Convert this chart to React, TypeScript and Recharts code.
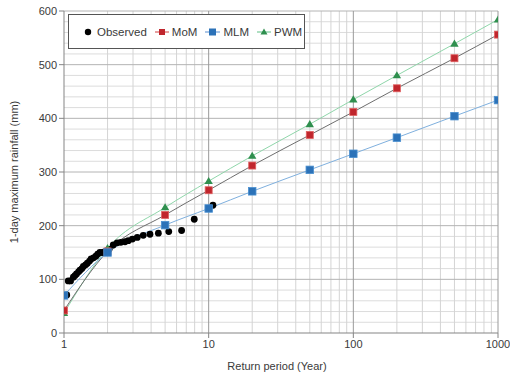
import React from 'react';
import {
  ComposedChart,
  Line,
  Scatter,
  XAxis,
  YAxis,
  ReferenceLine,
  Legend,
} from 'recharts';

// ---- Data ----
const returnPeriods = [1, 2, 5, 10, 20, 50, 100, 200, 500, 1000];
const momValues = [42, 152, 220, 266, 312, 369, 412, 456, 512, 556];
const mlmValues = [70, 150, 201, 232, 264, 304, 334, 364, 404, 434];
const pwmValues = [37, 158, 234, 283, 330, 389, 435, 480, 539, 584];

const observedT = [
  1.045, 1.07, 1.11, 1.16, 1.19, 1.22, 1.26, 1.29, 1.33, 1.36, 1.41, 1.45,
  1.5, 1.54, 1.6, 1.66, 1.71, 1.77, 1.84, 1.9, 1.97, 2.05, 2.19, 2.33, 2.47,
  2.64, 2.78, 2.97, 3.21, 3.53, 3.93, 4.49, 5.3, 6.5, 7.95, 10.7,
];
const observedValues = [
  71, 97, 97, 104, 107, 110, 114, 117, 120, 124, 127, 130, 134, 138, 140, 143,
  147, 150, 150, 151, 153, 156, 164, 168, 169, 170, 172, 175, 178, 182, 184,
  186, 189, 191, 212, 238,
];

const xTicks = [1, 10, 100, 1000];
const yTicks = [0, 100, 200, 300, 400, 500, 600];
const xMinorGrid = [2, 3, 4, 5, 6, 7, 8, 9, 20, 30, 40, 50, 60, 70, 80, 90, 200, 300, 400, 500, 600, 700, 800, 900];
const xMajorGrid = [10, 100, 1000];
const yMinorGrid = [20, 40, 60, 80, 120, 140, 160, 180, 220, 240, 260, 280, 320, 340, 360, 380, 420, 440, 460, 480, 520, 540, 560, 580];
const yMajorGrid = [100, 200, 300, 400, 500, 600];

const toSeries = (vals: number[]) => returnPeriods.map((t, i) => ({ t, v: vals[i] }));
const momData = toSeries(momValues);
const mlmData = toSeries(mlmValues);
const pwmData = toSeries(pwmValues);
const observedData = observedT.map((t, i) => ({ t, v: observedValues[i] }));

const FONT = '"Liberation Sans", Arial, sans-serif';
const TEXT = '#3a3a3a';

const C = {
  momMarker: '#c0262d',
  momLine: '#6e6e6e',
  mlmMarker: '#2c72b8',
  mlmLine: '#7fb0de',
  pwmMarker: '#2f8f4e',
  pwmLine: '#8fd6aa',
};

const squareDot = (fill: string, stroke: string, size: number) => (p: any) => {
  if (p.cx == null || p.cy == null) return <g key={`k-${p.index}`} />;
  return (
    <rect
      key={`sq-${p.index}`}
      x={p.cx - size / 2}
      y={p.cy - size / 2}
      width={size}
      height={size}
      fill={fill}
      stroke={stroke}
      strokeWidth={0.8}
    />
  );
};

const triDot = (fill: string) => (p: any) => {
  if (p.cx == null || p.cy == null) return <g key={`k-${p.index}`} />;
  const s = 4.2;
  return (
    <polygon
      key={`tr-${p.index}`}
      points={`${p.cx},${p.cy - s} ${p.cx - s},${p.cy + s * 0.7} ${p.cx + s},${p.cy + s * 0.7}`}
      fill={fill}
    />
  );
};

const LegendBox = () => {
  const item = (marker: React.ReactNode, label: string, w: number) => (
    <div style={{ display: 'flex', alignItems: 'center', marginRight: 8 }}>
      <svg width={w} height={10} style={{ marginRight: 2 }}>
        {marker}
      </svg>
      <span>{label}</span>
    </div>
  );
  return (
    <div
      style={{
        boxSizing: 'border-box',
        width: 237,
        height: 35,
        border: '1px solid #555',
        background: '#fff',
        display: 'flex',
        alignItems: 'center',
        paddingLeft: 15,
        fontFamily: FONT,
        fontSize: 11.5,
        color: TEXT,
      }}
    >
      {item(<circle cx={4} cy={5} r={3.2} fill="#000" />, 'Observed', 11)}
      {item(
        <g>
          <line x1={0} y1={5} x2={14} y2={5} stroke="#d04040" strokeWidth={1} />
          <rect x={4} y={2} width={6} height={6} fill={C.momMarker} />
        </g>,
        'MoM',
        15
      )}
      {item(
        <g>
          <line x1={0} y1={5} x2={15} y2={5} stroke="#5a8fd0" strokeWidth={1} />
          <rect x={4} y={1.5} width={7} height={7} fill={C.mlmMarker} />
        </g>,
        'MLM',
        16
      )}
      {item(
        <g>
          <line x1={0} y1={5} x2={14} y2={5} stroke="#5fbf85" strokeWidth={1} />
          <polygon points="7,1.5 3.5,7.5 10.5,7.5" fill={C.pwmMarker} />
        </g>,
        'PWM',
        15
      )}
    </div>
  );
};

export default function App() {
  return (
    <div style={{ position: 'absolute', left: 0, top: 0, width: 510, height: 378, background: '#fff' }}>
      <ComposedChart
        width={510}
        height={378}
        margin={{ top: 11, right: 12, left: 0, bottom: 15 }}
        style={{ fontFamily: FONT }}
      >
        <XAxis
          dataKey="t"
          type="number"
          scale="log"
          domain={[1, 1000]}
          ticks={xTicks}
          allowDataOverflow
          height={30}
          stroke="#858585"
          tickSize={5}
          tick={{ fill: TEXT, fontSize: 11, fontFamily: FONT }}
          tickFormatter={(v: number) => String(v)}
          label={{
            value: 'Return period (Year)',
            position: 'bottom',
            offset: -1,
            dx: -4,
            style: { fill: TEXT, fontSize: 11, fontFamily: FONT },
          }}
        />
        <YAxis
          dataKey="v"
          type="number"
          domain={[0, 600]}
          ticks={yTicks}
          allowDataOverflow
          width={64}
          stroke="#858585"
          tickSize={5}
          tick={{ fill: TEXT, fontSize: 11, fontFamily: FONT }}
          label={{
            value: '1-day maximum rainfall (mm)',
            angle: -90,
            position: 'center',
            dx: -18,
            style: { fill: TEXT, fontSize: 11, fontFamily: FONT, textAnchor: 'middle' },
          }}
        />
        {yMinorGrid.map((v) => (
          <ReferenceLine key={`ym${v}`} y={v} stroke="#dcdcdc" strokeWidth={1} />
        ))}
        {xMinorGrid.map((v) => (
          <ReferenceLine key={`xm${v}`} x={v} stroke="#d4d4d4" strokeWidth={1} />
        ))}
        {yMajorGrid.map((v) => (
          <ReferenceLine key={`yM${v}`} y={v} stroke="#b4b4b4" strokeWidth={1} />
        ))}
        {xMajorGrid.map((v) => (
          <ReferenceLine key={`xM${v}`} x={v} stroke="#9a9a9a" strokeWidth={1} />
        ))}
        <Legend
          align="center"
          verticalAlign="middle"
          content={() => <LegendBox />}
          wrapperStyle={{ left: 68, top: 14, width: 237, height: 35 }}
        />
        <Line
          data={pwmData}
          dataKey="v"
          type="monotone"
          stroke={C.pwmLine}
          strokeWidth={1}
          dot={triDot(C.pwmMarker)}
          activeDot={false}
          isAnimationActive={false}
          name="PWM"
        />
        <Line
          data={momData}
          dataKey="v"
          type="monotone"
          stroke={C.momLine}
          strokeWidth={1}
          dot={squareDot(C.momMarker, '#e06060', 7)}
          activeDot={false}
          isAnimationActive={false}
          name="MoM"
        />
        <Line
          data={mlmData}
          dataKey="v"
          type="monotone"
          stroke={C.mlmLine}
          strokeWidth={1}
          dot={squareDot(C.mlmMarker, '#4a90d0', 7.5)}
          activeDot={false}
          isAnimationActive={false}
          name="MLM"
        />
        <Scatter
          data={observedData}
          dataKey="v"
          isAnimationActive={false}
          name="Observed"
          shape={(p: any) => <circle cx={p.cx} cy={p.cy} r={3.4} fill="#000" />}
        />
      </ComposedChart>
    </div>
  );
}
